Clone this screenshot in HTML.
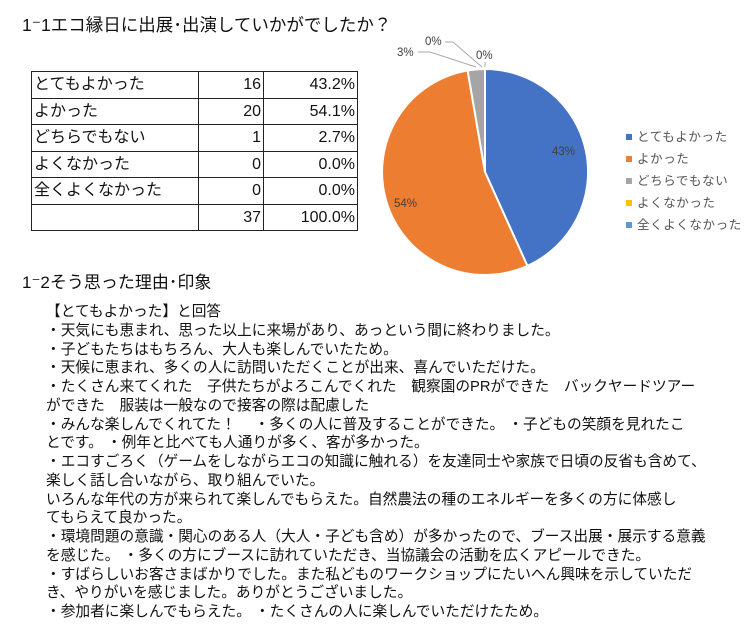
<!DOCTYPE html>
<html><head><meta charset="utf-8"><style>
body{margin:0;width:755px;height:640px;background:#fff;font-family:"Liberation Sans","Noto Sans CJK JP",sans-serif;color:#111;position:relative;overflow:hidden}
.t{position:absolute;white-space:nowrap}
table{position:absolute;left:31px;top:71px;border-collapse:collapse;font-size:16px}
td{border:1.5px solid #222;height:25.5px;padding:0 2px;line-height:25px}
td.n{text-align:right}
.b{position:absolute;left:46px;top:303px;font-size:14.7px;line-height:18.75px;white-space:nowrap}
</style></head><body>
<div class="t" style="left:22px;top:12px;font-size:17.5px">1⁻1エコ縁日に出展･出演していかがでしたか？</div>
<table>
<tr><td style="width:162px">とてもよかった</td><td class="n" style="width:60px">16</td><td class="n" style="width:89px">43.2%</td></tr>
<tr><td>よかった</td><td class="n">20</td><td class="n">54.1%</td></tr>
<tr><td>どちらでもない</td><td class="n">1</td><td class="n">2.7%</td></tr>
<tr><td>よくなかった</td><td class="n">0</td><td class="n">0.0%</td></tr>
<tr><td>全くよくなかった</td><td class="n">0</td><td class="n">0.0%</td></tr>
<tr><td></td><td class="n">37</td><td class="n">100.0%</td></tr>
</table>
<svg style="position:absolute;left:0;top:0" width="755" height="640">
<g stroke="#fff" stroke-width="2">
<path d="M485,172 L485,69 A103,103 0 0 1 527.4,265.9 Z" fill="#4472C4"/>
<path d="M485,172 L527.4,265.9 A103,103 0 1 1 467.6,70.5 Z" fill="#ED7D31"/>
<path d="M485,172 L467.6,70.5 A103,103 0 0 1 485,69 Z" fill="#A5A5A5"/>
</g>
<g stroke="#aaa" fill="none" stroke-width="1">
<polyline points="418,52 430,52 476,67"/>
<polyline points="445,42 453,42 482,67"/>
<line x1="485" y1="67" x2="485" y2="62"/>
</g>
<g font-size="11.5" fill="#404040" font-family="Liberation Sans,sans-serif">
<text x="397" y="56">3%</text><text x="425" y="45">0%</text><text x="476" y="59">0%</text>
<text x="552" y="155">43%</text><text x="394" y="207">54%</text>
</g>
<g font-size="12.5" fill="#555" font-family="Liberation Sans,Noto Sans CJK JP,sans-serif" letter-spacing="0.6">
<rect x="626" y="134" width="6" height="6" fill="#4472C4"/><text x="637" y="141">とてもよかった</text>
<rect x="626" y="156" width="6" height="6" fill="#ED7D31"/><text x="637" y="163">よかった</text>
<rect x="626" y="178" width="6" height="6" fill="#A5A5A5"/><text x="637" y="185">どちらでもない</text>
<rect x="626" y="200" width="6" height="6" fill="#FFC000"/><text x="637" y="207">よくなかった</text>
<rect x="626" y="222" width="6" height="6" fill="#5B9BD5"/><text x="637" y="229">全くよくなかった</text>
</g>
</svg>
<div class="t" style="left:22px;top:268px;font-size:17px">1⁻2そう思った理由･印象</div>
<div class="b">【とてもよかった】と回答<br>
・天気にも恵まれ、思った以上に来場があり、あっという間に終わりました。<br>
・子どもたちはもちろん、大人も楽しんでいたため。<br>
・天候に恵まれ、多くの人に訪問いただくことが出来、喜んでいただけた。<br>
・たくさん来てくれた　子供たちがよろこんでくれた　観察園のPRができた　バックヤードツアー<br>
ができた　服装は一般なので接客の際は配慮した<br>
・みんな楽しんでくれてた！　 ・多くの人に普及することができた。 ・子どもの笑顔を見れたこ<br>
とです。 ・例年と比べても人通りが多く、客が多かった。<br>
・エコすごろく（ゲームをしながらエコの知識に触れる）を友達同士や家族で日頃の反省も含めて、<br>
楽しく話し合いながら、取り組んでいた。<br>
いろんな年代の方が来られて楽しんでもらえた。自然農法の種のエネルギーを多くの方に体感し<br>
てもらえて良かった。<br>
・環境問題の意識・関心のある人（大人・子ども含め）が多かったので、ブース出展・展示する意義<br>
を感じた。 ・多くの方にブースに訪れていただき、当協議会の活動を広くアピールできた。<br>
・すばらしいお客さまばかりでした。また私どものワークショップにたいへん興味を示していただ<br>
き、やりがいを感じました。ありがとうございました。<br>
・参加者に楽しんでもらえた。 ・たくさんの人に楽しんでいただけたため。</div>
</body></html>
